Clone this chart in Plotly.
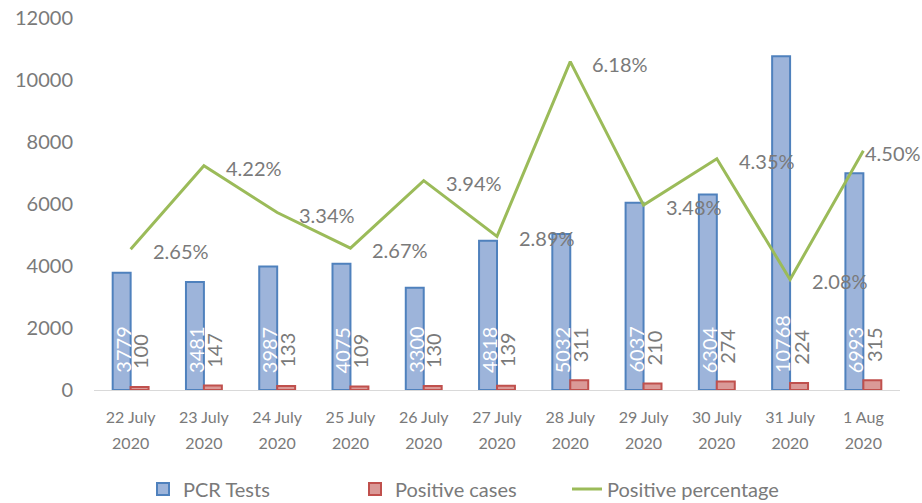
import plotly.graph_objects as go

categories = ["22 July<br>2020", "23 July<br>2020", "24 July<br>2020", "25 July<br>2020",
              "26 July<br>2020", "27 July<br>2020", "28 July<br>2020", "29 July<br>2020",
              "30 July<br>2020", "31 July<br>2020", "1 Aug<br>2020"]
pcr_tests = [3779, 3481, 3987, 4075, 3300, 4818, 5032, 6037, 6304, 10768, 6993]
positive_cases = [100, 147, 133, 109, 130, 139, 311, 210, 274, 224, 315]
positive_pct = [2.65, 4.22, 3.34, 2.67, 3.94, 2.89, 6.18, 3.48, 4.35, 2.08, 4.50]
y_ticks = [0, 2000, 4000, 6000, 8000, 10000, 12000]

FONT = "Lato"
GRAY = "#7a7a7a"

# tick labels: larger base size gives the wider line spacing, inner span sets glyph size
tick_text = [f'<span style="font-size:16px">{c}</span>' for c in categories]

fig = go.Figure()
fig.add_trace(go.Bar(
    x=categories, y=pcr_tests, name="PCR Tests",
    marker=dict(color="#9db4da", line=dict(color="#4f81bd", width=2)),
))
fig.add_trace(go.Bar(
    x=categories, y=positive_cases, name="Positive cases",
    marker=dict(color="#da9997", line=dict(color="#c0504d", width=2)),
))
fig.add_trace(go.Scatter(
    x=categories, y=positive_pct, name="Positive percentage", yaxis="y2",
    mode="lines", line=dict(color="#9bbb59", width=3),
))

annotations = []
for c, v in zip(categories, pcr_tests):
    annotations.append(dict(x=c, y=0, xref="x", yref="y", text=str(v), textangle=-90,
                            showarrow=False, xanchor="center", yanchor="bottom",
                            xshift=-8, yshift=15,
                            font=dict(family=FONT, size=20, color="white")))
for c, v in zip(categories, positive_cases):
    annotations.append(dict(x=c, y=v, xref="x", yref="y", text=str(v), textangle=-90,
                            showarrow=False, xanchor="center", yanchor="bottom",
                            xshift=10, yshift=16,
                            font=dict(family=FONT, size=20, color=GRAY)))
n = len(categories)
for i, (c, v) in enumerate(zip(categories, positive_pct)):
    last = i == n - 1
    annotations.append(dict(x=c, y=v, xref="x", yref="y2", text=f"{v:.2f}%",
                            showarrow=False, xanchor="left", yanchor="middle",
                            xshift=0 if last else 20, yshift=-2,
                            font=dict(family=FONT, size=20, color=GRAY)))

fig.update_layout(
    width=922, height=503,
    margin=dict(l=94, r=22, t=18, b=113, autoexpand=False),
    paper_bgcolor="white", plot_bgcolor="white",
    font=dict(family=FONT, color=GRAY),
    barmode="group", bargap=0.51, bargroupgap=0,
    showlegend=True,
    hovermode=False,
    legend=dict(orientation="h", xref="container", yref="container",
                x=0.5, xanchor="center", y=0.028, yanchor="middle",
                entrywidth=167, entrywidthmode="pixels",
                font=dict(family=FONT, size=20, color=GRAY)),
    xaxis=dict(range=[-0.5, n - 0.5], autorange=False, automargin=False,
               tickvals=categories, ticktext=tick_text,
               showgrid=False, showline=True, linecolor="#d9d9d9", linewidth=1,
               ticks="", tickfont=dict(family=FONT, size=20, color=GRAY),
               ticklabelstandoff=8),
    yaxis=dict(range=[0, 12000], tickvals=y_ticks, tickformat="d", showgrid=False,
               showline=False, zeroline=False, ticks="", automargin=False,
               ticklabeloverflow="allow",
               tickfont=dict(family=FONT, size=20, color=GRAY), ticklabelstandoff=20),
    yaxis2=dict(range=[0, 7], overlaying="y", side="right", visible=False,
                showgrid=False, zeroline=False, automargin=False),
    annotations=annotations,
)

fig.write_html("out.html", config={"displayModeBar": False},
               post_script="document.body.style.margin='0';document.body.style.overflow='hidden';")
